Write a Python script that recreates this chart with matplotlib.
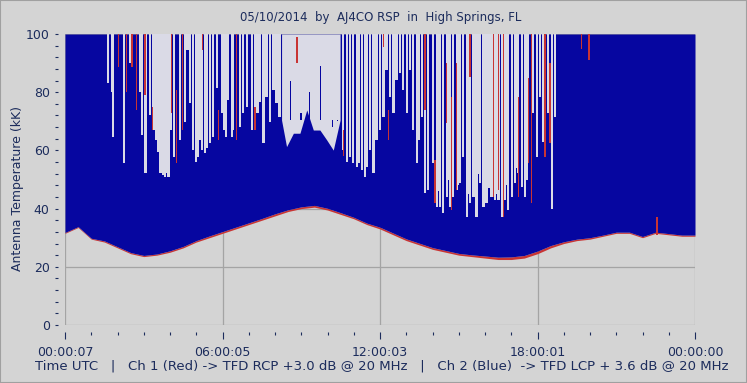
import numpy as np
import matplotlib
matplotlib.use("Agg")
import matplotlib.pyplot as plt
from matplotlib.ticker import MultipleLocator

# ---------------------------------------------------------------- data
# sample times (hours UTC) for the floor / envelope curves
hours = np.arange(0, 24.01, 0.5)

# lower edge of Ch 1 (red, RCP) in kK
ch1_floor = [31.5, 33.5, 29.5, 28.5, 26.5, 24.5, 23.5, 24.0, 25.0, 26.5,
             28.5, 30.0, 31.5, 33.0, 34.5, 36.0, 37.5, 39.0, 40.0, 40.5,
             39.5, 38.0, 36.5, 34.5, 33.0, 31.0, 29.0, 27.5, 26.0, 25.0,
             24.0, 23.5, 23.0, 22.5, 22.5, 23.0, 24.5, 26.5, 28.0, 29.0,
             29.5, 30.5, 31.5, 31.5, 30.0, 31.5, 31.0, 30.5, 30.5]

# lower edge of Ch 2 (blue, LCP) in kK
ch2_floor = [31.8, 33.8, 29.8, 28.9, 26.9, 24.9, 23.9, 24.4, 25.5, 27.0,
             29.0, 30.6, 32.1, 33.6, 35.1, 36.6, 38.2, 39.6, 40.6, 41.1,
             40.1, 38.6, 37.0, 35.0, 33.6, 31.6, 29.6, 28.1, 26.6, 25.6,
             24.6, 24.1, 23.7, 23.3, 23.4, 23.9, 25.4, 27.3, 28.6, 29.5,
             30.0, 30.9, 31.9, 31.9, 30.4, 31.9, 31.4, 30.9, 30.9]

# gaps in the Ch 2 trace: (hour, lowest value reached by the gap)
gap_hour = [1.65, 1.78, 1.84, 2.25, 2.48, 2.86, 2.92, 3.07, 3.24, 3.37,
            3.47, 3.56, 3.64, 3.72, 3.81, 3.87, 3.94, 4.04, 4.15, 4.38,
            4.57, 4.67, 4.76, 4.89, 4.99, 5.08, 5.14, 5.21, 5.33, 5.42,
            5.52, 5.63, 5.78, 5.97, 6.06, 6.13, 6.22, 6.35, 6.41, 6.67,
            6.79, 6.92, 7.11, 7.24, 7.33, 7.43, 7.56, 7.68, 7.81, 7.94,
            8.06, 8.17,
            10.60, 10.73, 10.86, 10.98, 11.11, 11.21, 11.30, 11.43, 11.49, 11.62,
            11.75, 11.87, 12.00, 12.13, 12.25, 12.38, 12.51, 12.63, 12.76, 12.89,
            13.02, 13.14, 13.27, 13.40, 13.50, 13.59, 13.71, 13.84, 14.03, 14.16,
            14.29, 14.41, 14.54, 14.67, 14.79, 14.92, 15.05, 15.17, 15.30, 15.43,
            15.56, 15.68, 15.81, 15.94, 16.06, 16.25, 16.38, 16.51, 16.64, 16.76,
            16.89, 17.02, 17.14, 17.27, 17.40, 17.52, 17.65, 17.84, 17.97, 18.10,
            18.29, 18.41, 18.55, 18.67,
            14.23, 14.60, 14.98, 15.37, 15.75, 16.15, 16.45, 16.83, 17.20, 17.58,
            18.20]
gap_low = [83.0, 80.2, 64.7, 55.6, 89.9, 80.2, 65.3, 52.1, 72.2, 67.0,
           63.6, 59.6, 52.1, 51.5, 51.0, 52.1, 51.0, 67.0, 57.9, 63.6,
           69.9, 94.5, 76.2, 60.1, 56.1, 57.9, 63.6, 60.1, 59.0, 60.7,
           62.4, 64.7, 81.3, 72.7, 67.0, 64.7, 77.3, 64.7, 67.0, 68.1,
           72.7, 75.0, 67.0, 68.7, 72.7, 76.7, 62.4, 78.5, 69.9, 80.8,
           76.2, 71.6,
           60.1, 56.1, 57.9, 55.6, 54.4, 55.6, 53.3, 51.0, 54.4, 60.1,
           52.1, 63.6, 67.0, 71.6, 87.6, 78.5, 72.7, 84.2, 86.5, 80.8,
           72.7, 87.6, 67.0, 55.6, 63.6, 71.6, 45.3, 46.4, 55.6, 40.7,
           40.7, 38.4, 44.1, 40.7, 44.1, 46.4, 48.7, 57.9, 37.2, 41.8,
           44.1, 37.2, 48.7, 40.7, 41.8, 44.1, 43.0, 43.0, 37.2, 43.0,
           39.5, 44.1, 48.7, 52.1, 47.5, 44.1, 55.6, 72.7, 57.9, 78.5,
           57.9, 72.7, 40.0, 71.6,
           46.0, 50.0, 48.0, 45.0, 52.0, 47.0, 45.0, 48.0, 54.0, 50.0,
           63.0]

# wide quiet stretch around 09 UTC: lower edge of the empty area
quiet_hour = [8.25, 8.44, 8.70, 8.95, 9.21, 9.46, 9.71, 9.97, 10.22, 10.48]
quiet_low = [70.4, 61.3, 65.9, 65.9, 73.9, 67.0, 67.0, 63.6, 60.1, 70.4]

# isolated Ch 2 spikes inside the quiet stretch: (hour, peak)
spike_hour = [8.58, 8.99, 9.31, 9.73, 10.18, 10.37]
spike_top = [84.0, 73.0, 80.0, 89.0, 68.0, 70.0]

# Ch 1 spikes seen through the gaps: (hour, low, high)
red_hour = [2.03, 2.35, 2.56, 2.73, 3.05, 3.33, 4.06, 4.25, 4.48, 5.24,
            5.84, 6.54, 7.24, 8.83, 10.60, 12.13, 12.32, 13.71, 14.09, 14.54,
            14.73, 14.92, 15.43, 16.32, 16.51, 16.70, 17.27, 17.65, 17.78, 18.29,
            18.47, 19.68, 19.97, 22.55]
red_low = [88.8, 80.2, 88.8, 73.9, 79.0, 67.0, 72.7, 55.6, 67.0, 94.5,
           63.6, 63.6, 67.0, 89.9, 58.0, 95.6, 63.6, 73.9, 41.8, 69.3,
           39.5, 46.4, 85.3, 44.1, 46.4, 37.2, 44.1, 55.6, 41.8, 57.9,
           62.4, 95.0, 91.0, 31.0]
red_high = [100, 100, 100, 100, 100, 75.0, 100, 80.8, 100, 100,
            73.9, 100, 75.0, 99.0, 67.0, 100, 73.9, 100, 56.7, 89.9,
            78.5, 89.9, 100, 100, 100, 100, 78.5, 85.0, 100, 100,
            89.9, 100, 100, 37.0]

tick_labels = ["00:00:07", "06:00:05", "12:00:03", "18:00:01", "00:00:00"]

# ---------------------------------------------------------------- style
bg = "#d4d4d4"
gapc = "#dadae6"
blue = "#0606a0"
red = "#c83434"
txt = "#1c2c5c"
gridc = "#a4a4a4"

fig = plt.figure(figsize=(7.47, 3.83), dpi=100, facecolor=bg)
ax = fig.add_axes([65 / 747, 1 - 325 / 383, 630 / 747, 291 / 383])
ax.set_facecolor(bg)

# frame + grid behind the data
for v in [0, 20, 40, 60, 80, 100]:
    ax.axhline(v, color=gridc, lw=0.9, zorder=0)
for h in [0, 6, 12, 18, 24]:
    ax.axvline(h, color=gridc, lw=0.9, zorder=0)

# red fringe under the blue trace
ax.fill_between(hours, ch1_floor, ch2_floor, color=red, lw=0, zorder=1)
# blue trace filled up to full scale
ax.fill_between(hours, ch2_floor, 100, color=blue, lw=0, zorder=2)

# gaps (about 2 px wide) and the quiet stretch
gap_len = [100 - v for v in gap_low]
ax.bar(gap_hour, gap_len, bottom=gap_low, width=0.085, color=gapc, lw=0,
       zorder=3)
ax.fill_between(quiet_hour, quiet_low, 100, color=gapc, lw=0, zorder=3)
spike_len = [t - quiet_low[0] for t in spike_top]
ax.bar(spike_hour, spike_len, bottom=quiet_low[0], width=0.045, color=blue,
       lw=0, zorder=4)
red_len = [h - l for l, h in zip(red_low, red_high)]
ax.bar(red_hour, red_len, bottom=red_low, width=0.055, color=red, lw=0,
       zorder=4)

ax.set_xlim(0, 24)
ax.set_ylim(0, 100)

for s in ax.spines.values():
    s.set_visible(False)
ax.spines["left"].set_position(("outward", 5))
ax.spines["bottom"].set_position(("outward", 5))

ax.yaxis.set_major_locator(MultipleLocator(20))
ax.yaxis.set_minor_locator(MultipleLocator(4))
ax.xaxis.set_minor_locator(MultipleLocator(1))
ax.set_xticks([0, 6, 12, 18, 24])
ax.set_xticklabels(tick_labels)

ax.tick_params(axis="y", which="both", length=2, width=0.8, color=txt,
               labelsize=9, labelcolor=txt, pad=4)
ax.tick_params(axis="x", which="major", length=5, width=0.8, color=txt,
               labelsize=9, labelcolor=txt, pad=5)
ax.tick_params(axis="x", which="minor", length=2, width=0.8, color=txt)

ax.set_ylabel("Antenna Temperature (kK)", fontsize=9, color=txt)
ax.yaxis.set_label_coords(-0.065, 0.47)

fig.text(0.509, 1 - 18 / 383, "05/10/2014  by  AJ4CO RSP  in  High Springs, FL",
         ha="center", va="center", fontsize=8.5, color=txt)
fig.text(0.511, 1 - 366 / 383,
         "Time UTC   |   Ch 1 (Red) -> TFD RCP +3.0 dB @ 20 MHz   |   "
         "Ch 2 (Blue)  -> TFD LCP + 3.6 dB @ 20 MHz",
         ha="center", va="center", fontsize=9.5, color=txt)

# thin border round the whole picture
fig.patches.append(plt.Rectangle((0, 0), 1, 1, transform=fig.transFigure,
                                 fill=False, edgecolor="#a0a0a0", lw=1.5))

fig.savefig("out.png", dpi=100, facecolor=bg)
